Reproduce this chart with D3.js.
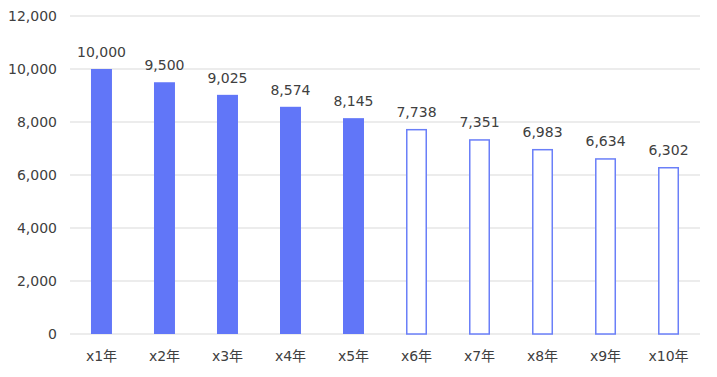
<!DOCTYPE html>
<meta charset="utf-8">
<script src="https://d3js.org/d3.v7.min.js"></script>
<style>
  body { margin: 0; background: #fff; }
  text { font-family: "DejaVu Sans", Verdana, "Noto Sans CJK JP", sans-serif; fill: #404040; }
</style>
<svg id="chart" width="717" height="377"></svg>
<script>

// data
var categories = ["x1年", "x2年", "x3年", "x4年", "x5年", "x6年", "x7年", "x8年", "x9年", "x10年"];
var values = [10000, 9500, 9025, 8574, 8145, 7738, 7351, 6983, 6634, 6302];
var filled = [true, true, true, true, true, false, false, false, false, false];
var yTicks = [0, 2000, 4000, 6000, 8000, 10000, 12000];

var svg = d3.select("#chart");
var margin = {left: 70, right: 17, top: 16, bottom: 43};
var width = 717 - margin.left - margin.right,
    height = 377 - margin.top - margin.bottom;

var g = svg.append("g").attr("transform", "translate(" + margin.left + "," + margin.top + ")");

var x = d3.scaleBand().domain(categories).range([0, width]).paddingInner(0.667).paddingOuter(0.333);
var y = d3.scaleLinear().domain([0, 12000]).range([height, 0]);

var fmt = d3.format(",");

// gridlines
g.selectAll(".grid")
  .data(yTicks)
  .enter().append("line")
    .attr("x1", 0).attr("x2", width)
    .attr("y1", function(d) { return y(d); })
    .attr("y2", function(d) { return y(d); })
    .attr("stroke", "#d9d9d9")
    .attr("stroke-width", 1);

// y axis labels
var yAxis = g.append("g").call(d3.axisLeft(y).tickValues(yTicks).tickFormat(fmt).tickSize(0).tickPadding(13));
yAxis.select(".domain").remove();
yAxis.selectAll("text").style("font-size", "14px").attr("fill", "#404040");

// x axis labels
var xAxis = g.append("g").attr("transform", "translate(0," + height + ")")
  .call(d3.axisBottom(x).tickSize(0).tickPadding(17));
xAxis.select(".domain").remove();
xAxis.selectAll("text").style("font-size", "14px").attr("fill", "#404040");

// bars
g.selectAll(".bar")
  .data(values)
  .enter().append("rect")
    .attr("x", function(d, i) { return x(categories[i]) + (filled[i] ? 0 : 0.75); })
    .attr("y", function(d, i) { return y(d) + (filled[i] ? 0 : 0.75); })
    .attr("width", function(d, i) { return x.bandwidth() - (filled[i] ? 0 : 1.5); })
    .attr("height", function(d, i) { return height - y(d) - (filled[i] ? 0 : 0.75); })
    .attr("fill", function(d, i) { return filled[i] ? "#6176f8" : "#ffffff"; })
    .attr("stroke", function(d, i) { return filled[i] ? "none" : "#6a7ff8"; })
    .attr("stroke-width", 1.5);

// value labels
g.selectAll(".val")
  .data(values)
  .enter().append("text")
    .attr("x", function(d, i) { return x(categories[i]) + x.bandwidth() / 2; })
    .attr("y", function(d) { return y(d) - 12; })
    .attr("text-anchor", "middle")
    .style("font-size", "14px")
    .text(function(d) { return fmt(d); });

</script>
